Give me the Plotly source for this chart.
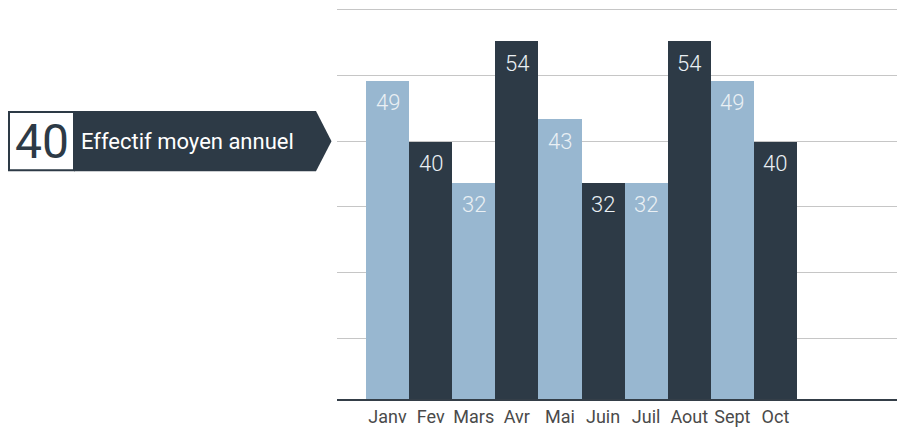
import plotly.graph_objects as go

# ---- data ----
months = ["Janv", "Fev", "Mars", "Avr", "Mai", "Juin", "Juil", "Aout", "Sept", "Oct"]
heights = [49.2, 39.9, 33.7, 55.2, 43.3, 33.7, 33.7, 55.2, 49.2, 39.9]
labels = ["49", "40", "32", "54", "43", "32", "32", "54", "49", "40"]
grid_vals = [10, 20, 30, 40, 50, 60]
avg_value = 40
avg_label = "40"
avg_title = "Effectif moyen annuel"

LIGHT = "#98b7d0"
DARK = "#2d3a46"
colors = [LIGHT if i % 2 == 0 else DARK for i in range(len(months))]

# page has an 8px body margin, so the figure is drawn 8px smaller and offset
OFF = 8
W, H = 905 - OFF, 427 - OFF
L, R, T, B = 337 - OFF, 905 - OFF, 0, 405 - OFF
PPU = 6.68
Y1 = 60 + 1.6 / PPU
Y0 = 60 - (B - 1.6) / PPU
X0, X1 = -1.173, 12.006

fig = go.Figure()
fig.add_trace(go.Bar(
    x=months, y=heights, marker=dict(color=colors, line=dict(width=0)),
    hoverinfo="skip", showlegend=False,
))

for m, h, t in zip(months, heights, labels):
    fig.add_annotation(x=m, y=h, xref="x", yref="y", text=t, showarrow=False,
                       yanchor="middle", yshift=-22,
                       font=dict(family="Roboto", size=22, color="#eaf0f4", weight=300))

def px_x(p):
    return (p - OFF - L) / (R - L)

def px_y(p):
    return (B - (p - OFF)) / (B - T)

tip_pix = B - (avg_value - Y0) / (Y1 - Y0) * (B - T) + OFF
top_pix = tip_pix - 30.5
bot_pix = tip_pix + 30.5

path = (f"M {px_x(74)},{px_y(top_pix)} L {px_x(316)},{px_y(top_pix)} "
        f"L {px_x(331.5)},{px_y(tip_pix)} L {px_x(316)},{px_y(bot_pix)} "
        f"L {px_x(74)},{px_y(bot_pix)} Z")
fig.add_shape(type="path", path=path, xref="paper", yref="paper",
              fillcolor=DARK, line=dict(width=0), layer="above")
fig.add_shape(type="rect", xref="paper", yref="paper",
              x0=px_x(OFF + 1), x1=px_x(74), y0=px_y(top_pix + 1), y1=px_y(bot_pix - 1),
              fillcolor="white", line=dict(color=DARK, width=2), layer="above")

fig.add_annotation(x=px_x(41.5), y=px_y(tip_pix), xref="paper", yref="paper",
                   text=avg_label, showarrow=False, xanchor="center", yanchor="middle",
                   font=dict(family="Roboto", size=48, color=DARK))
fig.add_annotation(x=px_x(79), y=px_y(tip_pix), xref="paper", yref="paper",
                   text=avg_title, showarrow=False, xanchor="left", yanchor="middle",
                   font=dict(family="Roboto", size=22, color="white"))

fig.update_layout(
    width=W, height=H,
    margin=dict(l=L, r=W - R, t=T, b=H - B, pad=0),
    plot_bgcolor="white", paper_bgcolor="white",
    bargap=0,
    xaxis=dict(range=[X0, X1], showgrid=False, zeroline=False,
               showline=True, linecolor="#343e48", linewidth=2,
               ticks="", tickfont=dict(family="Roboto", size=18, color="#4a4a4a"),
               fixedrange=True),
    yaxis=dict(range=[Y0, Y1], tickvals=grid_vals, showticklabels=False,
               showgrid=True, gridcolor="#c6c6c6", gridwidth=1,
               zeroline=False, showline=False, fixedrange=True),
)

fig.write_html("out.html")
